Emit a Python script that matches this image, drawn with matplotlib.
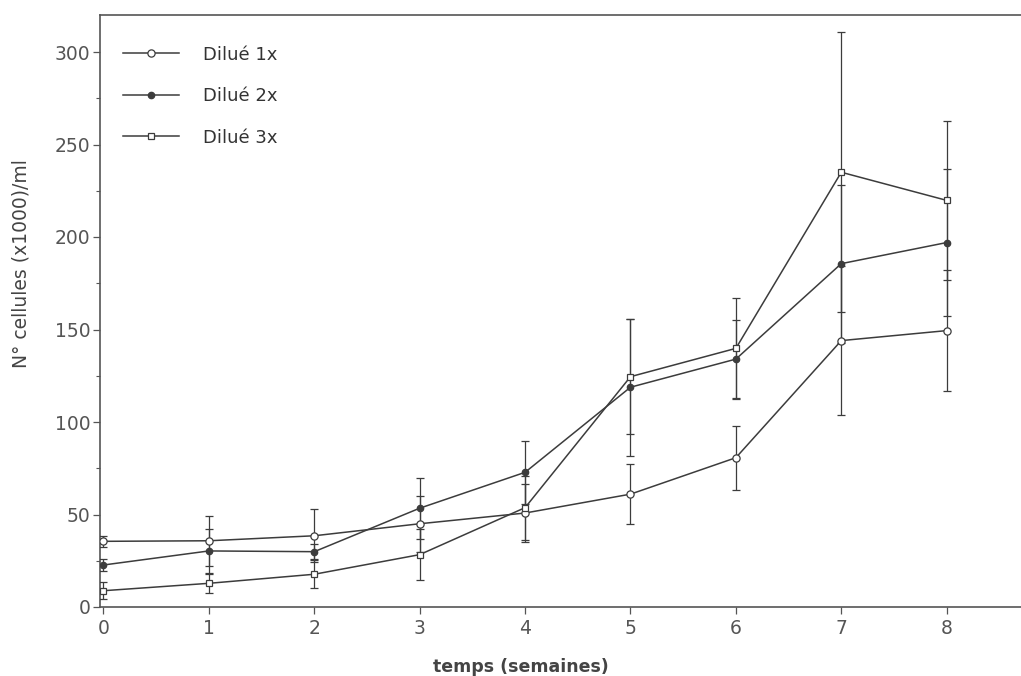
import matplotlib
matplotlib.use("Agg")
import matplotlib.pyplot as plt
from matplotlib.ticker import MultipleLocator, FixedLocator

# Weeks of culture
weeks = [0, 1, 2, 3, 4, 5, 6, 7, 8]

# Cell counts (x1000 per ml) and their error bars for each dilution
dil1_mean = [35.5, 35.8, 38.5, 45.0, 50.8, 61.0, 80.7, 144.0, 149.4]
dil1_err = [3.0, 13.5, 14.3, 15.1, 15.9, 16.4, 17.4, 40.4, 32.8]

dil2_mean = [22.7, 30.3, 29.9, 53.4, 72.8, 118.8, 134.0, 185.6, 197.0]
dil2_err = [3.0, 11.7, 4.0, 16.4, 16.9, 37.0, 21.3, 42.7, 39.5]

dil3_mean = [8.8, 12.8, 17.7, 28.3, 53.7, 124.5, 139.8, 235.0, 219.8]
dil3_err = [4.5, 5.1, 7.6, 13.9, 17.3, 31.0, 27.0, 75.7, 43.0]

series_labels = ["Dilué 1x", "Dilué 2x", "Dilué 3x"]
y_ticks = [0, 50, 100, 150, 200, 250, 300]
y_ticklabels = ["0", "50", "100", "150", "200", "250", "300"]

ink = "#3c3c3c"
frame = "#555555"

plt.rcParams["font.family"] = ["DejaVu Sans"]

fig = plt.figure(figsize=(10.21, 6.76), dpi=100)
ax = fig.add_axes([100 / 1021, 1 - 607 / 676, 1 - 100 / 1021, 592 / 676])

styles = [
    dict(marker="o", markersize=5.2, markerfacecolor="white"),
    dict(marker="o", markersize=4.6, markerfacecolor=ink),
    dict(marker="s", markersize=5.0, markerfacecolor="white"),
]
data = [(dil1_mean, dil1_err), (dil2_mean, dil2_err), (dil3_mean, dil3_err)]

handles = []
for (mean, err), st, lab in zip(data, styles, series_labels):
    cont = ax.errorbar(weeks, mean, yerr=err, color=ink, lw=1.1,
                       elinewidth=0.9, capsize=3.2, capthick=1.0,
                       markeredgecolor=ink, markeredgewidth=0.9,
                       label=lab, zorder=3, **st)
    handles.append(cont.lines[0])

leg = ax.legend(handles, series_labels, loc="upper left",
                bbox_to_anchor=(0.025, 0.948), frameon=False,
                handlelength=3.1, handletextpad=1.35, labelspacing=1.3,
                borderaxespad=0, borderpad=0, fontsize=13)
for t in leg.get_texts():
    t.set_color("#333333")

ax.set_xlim(-0.033, 8.705)
ax.set_ylim(0, 320)

ax.xaxis.set_major_locator(FixedLocator(weeks))
ax.set_xticklabels([str(w) for w in weeks])
ax.yaxis.set_major_locator(FixedLocator(y_ticks))
ax.set_yticklabels(y_ticklabels)
ax.yaxis.set_minor_locator(MultipleLocator(25))

ax.tick_params(axis="x", direction="out", length=5, width=0.9, color=frame,
               labelsize=13.5, labelcolor="#555555", pad=4)
ax.tick_params(axis="y", which="major", direction="out", length=5, width=0.9,
               color=frame, labelsize=13.5, labelcolor="#555555", pad=2)
ax.tick_params(axis="y", which="minor", direction="out", length=3, width=0.8,
               color=frame)

for side in ["left", "bottom", "top"]:
    ax.spines[side].set_color(frame)
    ax.spines[side].set_linewidth(1.2)
ax.spines["right"].set_visible(False)

ax.set_xlabel("temps (semaines)", fontsize=12.5, fontweight="bold",
              color="#444444")
ax.xaxis.set_label_coords(421 / 921, -51 / 592)
ax.set_ylabel("N° cellules (x1000)/ml", fontsize=13.5, color="#444444")
ax.yaxis.set_label_coords(-69 / 921, 0.58)

fig.savefig("out.png", dpi=100, facecolor="white")
